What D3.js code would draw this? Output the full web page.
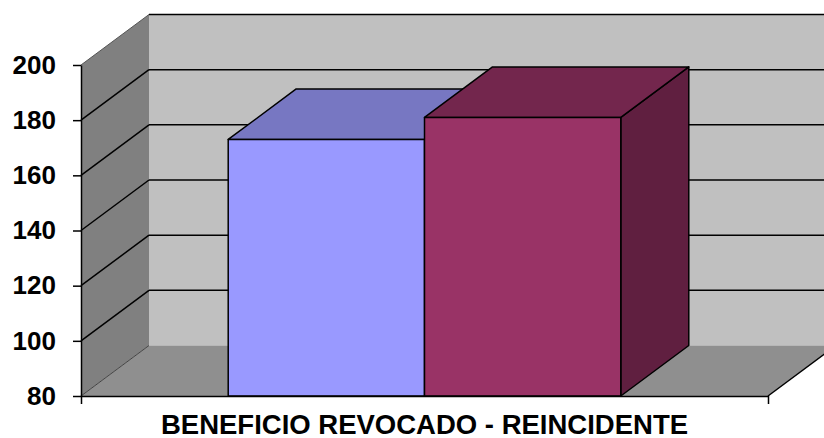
<!DOCTYPE html>
<html>
<head>
<meta charset="utf-8">
<script src="https://cdn.jsdelivr.net/npm/d3@7"></script>
<style>
  body { margin: 0; background: #fff; }
  svg { display: block; font-family: Arial, "Liberation Sans", sans-serif; }
</style>
</head>
<body>
<div id="chart"></div>
<script>
// data
let categories = ['BENEFICIO REVOCADO - REINCIDENTE'];
let seriesNames = ['Serie 1', 'Serie 2'];
let seriesValues = [173, 181];
let tickValues = [80, 100, 120, 140, 160, 180, 200];

let width = 824,
    height = 438,
    plotLeft = 81,
    plotRight = 768,
    depthX = 68,
    depthY = -50.5;

let faceColors = [
    {front: '#9999ff', top: '#7777c2', side: '#5f5f9f'},
    {front: '#993366', top: '#73264d', side: '#601f40'}
];

let svg = d3.select('#chart').append('svg')
    .attr('width', width)
    .attr('height', height);

let yScale = d3.scaleLinear()
    .domain([80, 200])
    .range([396, 65]);

let x0 = d3.scaleBand()
    .domain(categories)
    .range([plotLeft, plotRight]);

let x1 = d3.scaleBand()
    .domain(seriesNames)
    .range([0, x0.bandwidth()])
    .paddingOuter(0.75);

let yMin = yScale.domain()[0],
    yMax = yScale.domain()[1];

function pts(arr) {
    return arr.map(p => p.join(',')).join(' ');
}

// walls
let wall_g = svg.append('g').attr('class', 'walls');

wall_g.append('polygon')
    .attr('points', pts([
        [plotLeft + depthX, yScale(yMin) + depthY],
        [plotLeft + depthX, yScale(yMax) + depthY],
        [plotRight + depthX, yScale(yMax) + depthY],
        [plotRight + depthX, yScale(yMin) + depthY]
    ]))
    .attr('fill', '#c0c0c0');

wall_g.append('polygon')
    .attr('points', pts([
        [plotLeft, yScale(yMin)],
        [plotLeft, yScale(yMax)],
        [plotLeft + depthX, yScale(yMax) + depthY],
        [plotLeft + depthX, yScale(yMin) + depthY]
    ]))
    .attr('fill', '#808080');

wall_g.append('polygon')
    .attr('points', pts([
        [plotLeft, yScale(yMin)],
        [plotLeft + depthX, yScale(yMin) + depthY],
        [plotRight + depthX, yScale(yMin) + depthY],
        [plotRight, yScale(yMin)]
    ]))
    .attr('fill', '#8f8f8f');

// edges of walls
wall_g.append('line')
    .attr('x1', plotLeft).attr('y1', yScale(yMax))
    .attr('x2', plotLeft + depthX).attr('y2', yScale(yMax) + depthY)
    .attr('stroke', '#555').attr('stroke-width', 1);

wall_g.append('line')
    .attr('x1', plotLeft).attr('y1', yScale(yMin))
    .attr('x2', plotLeft + depthX).attr('y2', yScale(yMin) + depthY)
    .attr('stroke', '#444').attr('stroke-width', 1);

wall_g.append('line')
    .attr('x1', plotRight).attr('y1', yScale(yMin))
    .attr('x2', plotRight + depthX).attr('y2', yScale(yMin) + depthY)
    .attr('stroke', '#000').attr('stroke-width', 1.5);

// gridlines
let grid_g = svg.append('g').attr('class', 'grid');
let gridValues = tickValues.filter(d => d > yMin);

grid_g.selectAll('.back-grid')
    .data(gridValues)
    .join('line')
    .attr('class', 'back-grid')
    .attr('x1', plotLeft + depthX)
    .attr('x2', plotRight + depthX)
    .attr('y1', d => yScale(d) + depthY)
    .attr('y2', d => yScale(d) + depthY)
    .attr('stroke', '#000')
    .attr('stroke-width', 1.5);

grid_g.selectAll('.side-grid')
    .data(gridValues.filter(d => d < yMax))
    .join('line')
    .attr('class', 'side-grid')
    .attr('x1', plotLeft)
    .attr('x2', plotLeft + depthX)
    .attr('y1', d => yScale(d))
    .attr('y2', d => yScale(d) + depthY)
    .attr('stroke', '#000')
    .attr('stroke-width', 1.5);

// bars
let bar_g = svg.append('g').attr('class', 'bars');
let barData = seriesNames.map((s, i) => ({
    name: s, value: seriesValues[i], colors: faceColors[i],
    x: x0(categories[0]) + x1(s), w: x1.bandwidth()
}));

bar_g.selectAll('.bar')
    .data(barData)
    .join(enter => {
        let g = enter.append('g').attr('class', 'bar');
        g.append('polygon')
            .attr('points', d => pts([
                [d.x + d.w, yScale(yMin)],
                [d.x + d.w, yScale(d.value)],
                [d.x + d.w + depthX, yScale(d.value) + depthY],
                [d.x + d.w + depthX, yScale(yMin) + depthY]
            ]))
            .attr('fill', d => d.colors.side);
        g.append('polygon')
            .attr('points', d => pts([
                [d.x, yScale(d.value)],
                [d.x + depthX, yScale(d.value) + depthY],
                [d.x + d.w + depthX, yScale(d.value) + depthY],
                [d.x + d.w, yScale(d.value)]
            ]))
            .attr('fill', d => d.colors.top);
        g.append('rect')
            .attr('x', d => d.x)
            .attr('y', d => yScale(d.value))
            .attr('width', d => d.w)
            .attr('height', d => yScale(yMin) - yScale(d.value))
            .attr('fill', d => d.colors.front);
        g.selectAll('polygon, rect')
            .attr('stroke', '#000')
            .attr('stroke-width', 1.5)
            .attr('stroke-linejoin', 'round');
        return g;
    });

// axes
let yAxis = d3.axisLeft(yScale)
    .tickValues(tickValues)
    .tickSizeInner(8)
    .tickSizeOuter(0)
    .tickPadding(17);

let yAxis_g = svg.append('g')
    .attr('transform', `translate(${plotLeft}, 0)`)
    .call(yAxis);

let xAxis = d3.axisBottom(x0)
    .tickSizeInner(0)
    .tickSizeOuter(8)
    .tickPadding(18);

let xAxis_g = svg.append('g')
    .attr('transform', `translate(0, ${yScale(yMin)})`)
    .call(xAxis);

svg.selectAll('.domain, .tick line')
    .attr('stroke', '#000')
    .attr('stroke-width', 1.5);

svg.selectAll('.tick text')
    .attr('fill', '#000')
    .style('font-family', 'Arial, "Liberation Sans", sans-serif')
    .style('font-weight', 'bold');

yAxis_g.selectAll('.tick text').style('font-size', '26px');
xAxis_g.selectAll('.tick text').style('font-size', '27.5px');
</script>
</body>
</html>
